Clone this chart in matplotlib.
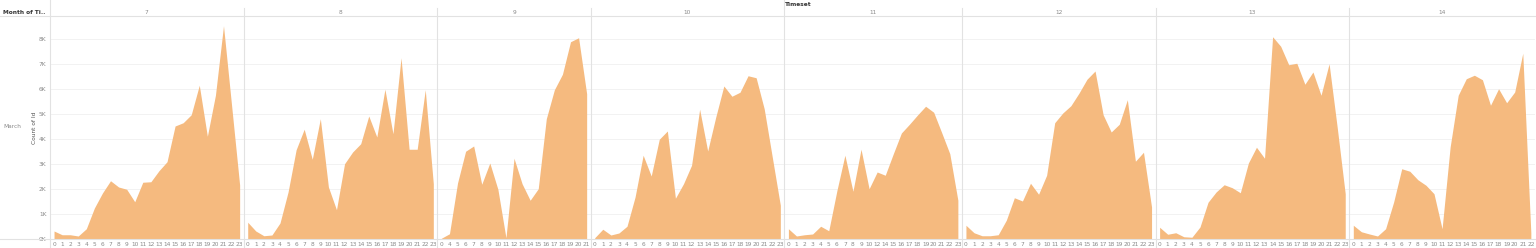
import matplotlib.pyplot as plt
import numpy as np

# days of March (panel headers) and hours present for each day
days = [7, 8, 9, 10, 11, 12, 13, 14]
hours_full = list(range(24))
hours_d9 = [0] + list(range(4, 22))
hours_d11 = list(range(11)) + [12] + list(range(14, 24))
hours_d14 = list(range(23))

# count of Id, in thousands
d7 = [0.32, 0.17, 0.17, 0.12, 0.41, 1.24, 1.84, 2.33, 2.08, 1.99, 1.49, 2.27,
      2.29, 2.73, 3.09, 4.52, 4.65, 4.97, 6.15, 4.11, 5.75, 8.53, 5.35, 2.16]
d8 = [0.67, 0.32, 0.13, 0.16, 0.64, 1.88, 3.57, 4.39, 3.19, 4.81, 2.08, 1.17,
      3.01, 3.48, 3.81, 4.92, 4.08, 5.99, 4.21, 7.25, 3.59, 3.59, 5.97, 2.21]
d9 = [0.03, 0.21, 2.24, 3.51, 3.72, 2.19, 3.04, 1.99, 0.05, 3.23, 2.21, 1.55,
      2.01, 4.81, 5.97, 6.59, 7.89, 8.05, 5.81]
d10 = [0.05, 0.39, 0.16, 0.24, 0.51, 1.68, 3.35, 2.52, 3.99, 4.32, 1.63, 2.21,
       2.95, 5.19, 3.52, 4.88, 6.12, 5.71, 5.87, 6.53, 6.45, 5.21, 3.28, 1.35]
d11 = [0.41, 0.12, 0.17, 0.20, 0.51, 0.33, 1.92, 3.35, 1.91, 3.59, 2.01, 2.68,
       2.55, 3.41, 4.24, 4.59, 4.96, 5.31, 5.07, 4.25, 3.41, 1.55]
d12 = [0.55, 0.25, 0.13, 0.13, 0.17, 0.75, 1.65, 1.52, 2.23, 1.79, 2.55, 4.65,
       5.04, 5.33, 5.83, 6.39, 6.72, 4.97, 4.28, 4.59, 5.57, 3.11, 3.47, 1.28]
d13 = [0.47, 0.19, 0.25, 0.09, 0.07, 0.48, 1.47, 1.88, 2.17, 2.05, 1.85, 3.04,
       3.67, 3.23, 8.09, 7.71, 6.97, 7.03, 6.19, 6.68, 5.75, 7.01, 4.48, 1.81]
d14 = [0.55, 0.29, 0.20, 0.12, 0.41, 1.48, 2.81, 2.71, 2.37, 2.15, 1.81, 0.41,
       3.68, 5.75, 6.41, 6.55, 6.37, 5.35, 6.01, 5.45, 5.88, 7.43, 0.25]

hours = [hours_full, hours_full, hours_d9, hours_full, hours_d11, hours_full, hours_full, hours_d14]
counts = [d7, d8, d9, d10, d11, d12, d13, d14]

W, H = 1536, 248
fig = plt.figure(figsize=(W / 100, H / 100), dpi=100)

fill = '#F5BA7F'
grey_txt = '#8a8a8a'
line_c = '#e2e2e2'

top, bottom = 16, 239      # pixel rows of plot area
left0 = 50
cat_w = 8.07
ymax = (bottom - top) / 25.0

x = left0
for i, (day, hrs, vals) in enumerate(zip(days, hours, counts)):
    n = len(hrs)
    w = n * cat_w
    ax = fig.add_axes([x / W, (H - bottom) / H, w / W, (bottom - top) / H])
    idx = np.arange(n)
    ax.fill_between(idx, vals, 0, color=fill, linewidth=0, zorder=2)
    ax.set_xlim(-0.5, n - 0.5)
    ax.set_ylim(0, ymax)
    ax.set_yticks(range(9))
    ax.grid(axis='y', color='#f0f0f0', linewidth=0.6, zorder=0)
    ax.set_xticks(idx)
    ax.set_xticklabels([str(h) for h in hrs], fontsize=4.2, color=grey_txt)
    ax.tick_params(axis='x', length=0, pad=2.2)
    if i == 0:
        ax.set_yticklabels([f'{k}K' for k in range(9)], fontsize=4.2, color=grey_txt)
        ax.tick_params(axis='y', length=0, pad=2.5)
        ax.set_ylabel('Count of Id', fontsize=4.2, color='#555555', labelpad=1.5)
    else:
        ax.tick_params(axis='y', length=0, labelleft=False)
    for s in ax.spines.values():
        s.set_visible(False)
    # panel header
    fig.text((x + w / 2) / W, 1 - 12 / H, str(day), fontsize=4.2, color=grey_txt,
             ha='center', va='center')
    x += w
    if i < len(days) - 1:
        fig.add_artist(plt.Line2D([x / W, x / W], [0, 1 - 8 / H], color=line_c,
                                  linewidth=0.8, transform=fig.transFigure))

# frame lines
fig.add_artist(plt.Line2D([left0 / W, left0 / W], [0, 1], color=line_c, linewidth=0.8,
                          transform=fig.transFigure))
fig.add_artist(plt.Line2D([0, 1], [1 - top / H, 1 - top / H], color=line_c, linewidth=0.8,
                          transform=fig.transFigure))
fig.add_artist(plt.Line2D([0, 1], [1 - bottom / H, 1 - bottom / H], color=line_c,
                          linewidth=0.8, transform=fig.transFigure))
fig.add_artist(plt.Line2D([784.4 / W, 784.4 / W], [1 - 8 / H, 1], color=line_c,
                          linewidth=0.8, transform=fig.transFigure))

fig.text(3 / W, 1 - 12 / H, 'Month of Ti..', fontsize=4.2, color='#333333',
         fontweight='bold', ha='left', va='center')
fig.text(785 / W, 1 - 4 / H, 'Timeset', fontsize=4.2, color='#333333',
         fontweight='bold', ha='left', va='center')
fig.text(3 / W, 1 - 127 / H, 'March', fontsize=4.2, color=grey_txt,
         ha='left', va='center')

fig.savefig('out.png', dpi=100)
